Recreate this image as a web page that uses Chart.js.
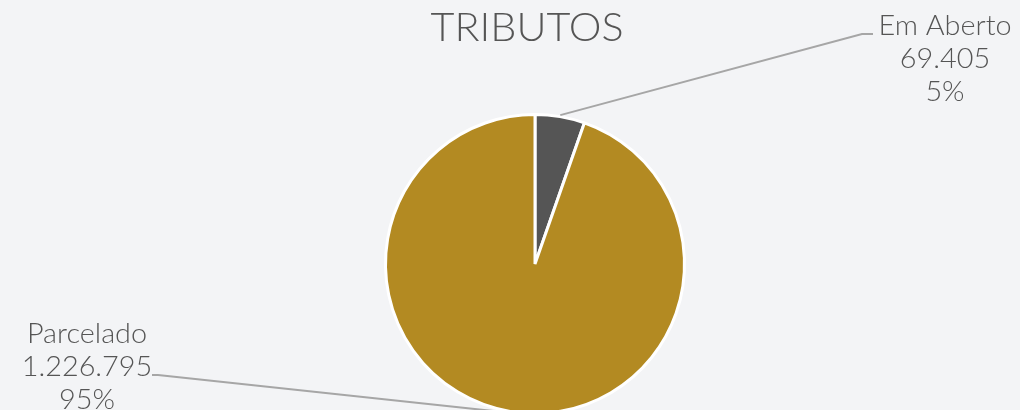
<!DOCTYPE html>
<html>
<head>
<meta charset="utf-8">
<script src="https://cdn.jsdelivr.net/npm/chart.js@4"></script>
<style>
  html, body { margin: 0; padding: 0; background: #f3f4f6; overflow: hidden; }
  #wrap { position: absolute; left: 0; top: 0; width: 1020px; height: 420px; }
</style>
</head>
<body>
<div id="wrap"><canvas id="tributosChart" width="1020" height="420"></canvas></div>
<script>
// data
const chartTitle = 'TRIBUTOS';
const categories = ['Em Aberto', 'Parcelado'];
const values = [69405, 1226795];
const sliceColors = ['#555555', '#b38a22'];

// label placement (elbow of leader line + text anchor)
const labelSpots = [
    {elbowX: 862, elbowY: 34, endX: 873, textX: 945, textY: 35},
    {elbowX: 158, elbowY: 375, endX: 152, textX: 87, textY: 343}
];

const total = values.reduce((a, b) => a + b, 0);
const fmt = v => String(v).replace(/\B(?=(\d{3})+(?!\d))/g, '.');

// draw centred text, stretched a little sideways like the original font
function wideText(ctx, text, x, y, sx) {
    ctx.save();
    ctx.translate(x, y);
    ctx.scale(sx, 1);
    ctx.fillText(text, 0, 0);
    ctx.restore();
}

const labelPlugin = {
    id: 'pieLabels',
    afterDraw(chart) {
        const ctx = chart.ctx;
        const meta = chart.getDatasetMeta(0);
        ctx.save();
        ctx.fillStyle = '#555555';
        ctx.textAlign = 'center';
        ctx.textBaseline = 'alphabetic';
        ctx.font = '300 39px Lato';
        wideText(ctx, chartTitle, 527, 41, 1.06);

        meta.data.forEach((arc, i) => {
            const p = arc.getProps(['x', 'y', 'startAngle', 'endAngle', 'outerRadius'], true);
            const mid = (p.startAngle + p.endAngle) / 2;
            const r = p.outerRadius + 1.5;
            const sx = p.x + Math.cos(mid) * r;
            const sy = p.y + Math.sin(mid) * r;
            const spot = labelSpots[i];

            ctx.strokeStyle = '#a6a6a6';
            ctx.lineWidth = 2;
            ctx.beginPath();
            ctx.moveTo(sx, sy);
            ctx.lineTo(spot.elbowX, spot.elbowY);
            ctx.lineTo(spot.endX, spot.elbowY);
            ctx.stroke();

            const pct = Math.round(values[i] / total * 100) + '%';
            const lines = [categories[i], fmt(values[i]), pct];
            ctx.fillStyle = '#555555';
            ctx.font = '300 28px Lato';
            lines.forEach((t, k) => wideText(ctx, t, spot.textX, spot.textY + k * 33, 1.03));
        });
        ctx.restore();
    }
};

new Chart(document.getElementById('tributosChart').getContext('2d'), {
    type: 'pie',
    data: {
        labels: categories,
        datasets: [{
            data: values,
            backgroundColor: sliceColors,
            borderColor: '#ffffff',
            borderWidth: 3,
            hoverBorderWidth: 3,
            hoverOffset: 0
        }]
    },
    options: {
        responsive: false,
        animation: false,
        events: [],
        layout: {padding: {left: 384, right: 334, top: 113, bottom: 5}},
        plugins: {
            legend: {display: false},
            title: {display: false},
            tooltip: {enabled: false}
        }
    },
    plugins: [labelPlugin]
});
</script>
</body>
</html>
